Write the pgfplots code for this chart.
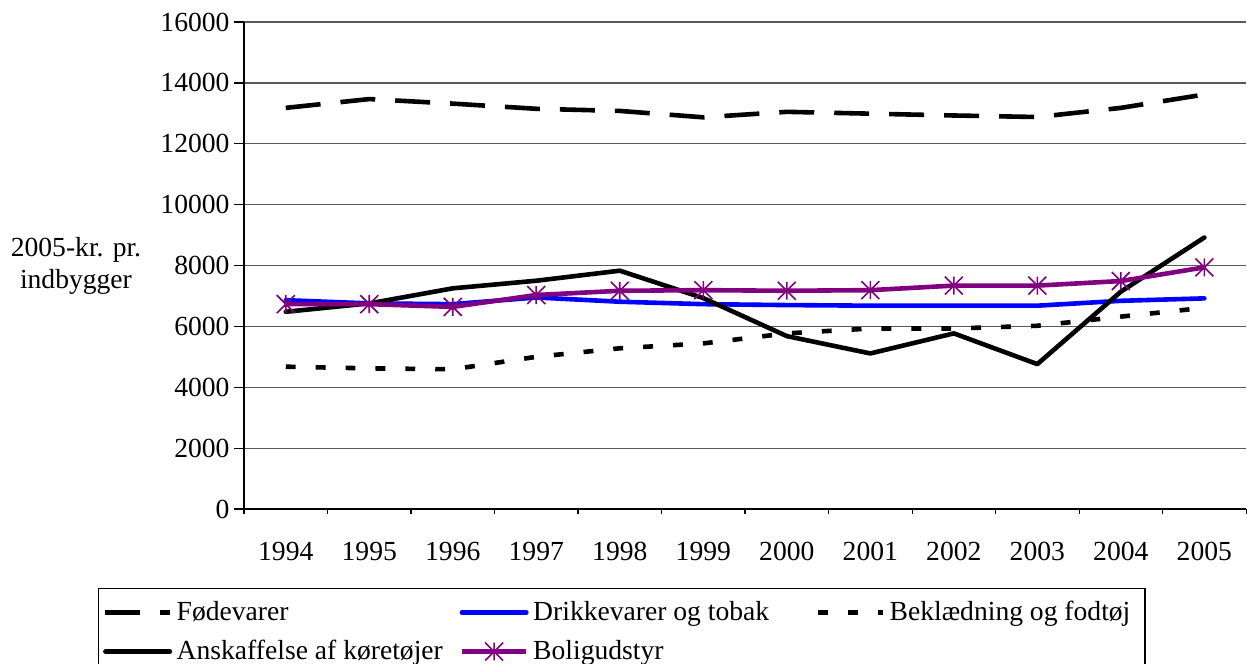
\documentclass[border=0pt]{standalone}
\usepackage{pgfplots}
\pgfplotsset{compat=1.18}
\usepackage{fontspec}
\setmainfont{Liberation Serif}
\definecolor{bolig}{RGB}{128,0,128}
\pgfdeclareplotmark{xstar}{%
  \pgfpathmoveto{\pgfqpoint{0pt}{\pgfplotmarksize}}%
  \pgfpathlineto{\pgfqpoint{0pt}{-\pgfplotmarksize}}%
  \pgfpathmoveto{\pgfqpoint{-\pgfplotmarksize}{-\pgfplotmarksize}}%
  \pgfpathlineto{\pgfqpoint{\pgfplotmarksize}{\pgfplotmarksize}}%
  \pgfpathmoveto{\pgfqpoint{-\pgfplotmarksize}{\pgfplotmarksize}}%
  \pgfpathlineto{\pgfqpoint{\pgfplotmarksize}{-\pgfplotmarksize}}%
  \pgfusepathqstroke}
\begin{document}
\begin{tikzpicture}
\path[use as bounding box] (0,0) rectangle (542.2pt,288.3pt);
\begin{axis}[
  at={(106.1pt,67pt)}, anchor=south west,
  scale only axis, width=435.7pt, height=211.7pt,
  xmin=-0.5, xmax=11.5, ymin=0, ymax=16000,
  axis x line*=bottom, axis y line*=left,
  axis line style={black, line width=0.5pt},
  xtick={0,...,11},
  xticklabels={1994,1995,1996,1997,1998,1999,2000,2001,2002,2003,2004,2005},
  major x tick style={draw=none},
  minor xtick={-0.5,0.5,...,11.5},
  minor x tick style={black, line width=0.5pt},
  minor tick length=2.2pt,
  ytick={0,2000,...,16000},
  scaled y ticks=false,
  major y tick style={black, line width=0.5pt},
  major tick length=4.3pt,
  tick align=outside,
  ymajorgrids,
  major grid style={black!65, line width=0.5pt},
  /pgf/number format/1000 sep={},
  /pgf/number format/assume math mode=true,
  yticklabel={\pgfmathprintnumber[fixed,precision=0,1000 sep={}]{\tick}},
  tick label style={font=\fontsize{12}{14}\selectfont},
  yticklabel style={xshift=1.5pt},
  xticklabel style={yshift=-6.5pt},
  ylabel={2005-kr. pr.\\indbygger},
  ylabel style={rotate=-90, at={(axis description cs:-0.1677,0.5)}, anchor=center,
    align=center, font=\fontsize{12}{14}\selectfont},
  legend columns=3,
  legend cell align=left,
  legend style={at={(axis description cs:-0.1457,-0.1622)}, anchor=north west,
    draw=black, line width=0.45pt, font=\fontsize{12}{14}\selectfont,
    row sep=3pt, inner xsep=2pt, inner ysep=3.5pt},
  legend image code/.code={\draw[mark repeat=2,mark phase=2,#1] plot coordinates {(0pt,0pt)(14pt,0pt)(28pt,0pt)};},
]
\addplot[black, line width=2pt, dash pattern=on 15.2pt off 8.7pt, no markers]
  coordinates {(0,13180)(1,13470)(2,13320)(3,13150)(4,13080)(5,12870)(6,13050)(7,12990)(8,12930)(9,12880)(10,13180)(11,13620)};
\addlegendentry{\makebox[121pt][l]{Fødevarer}}
\addplot[blue, line width=2pt, line cap=round, line join=round, no markers]
  coordinates {(0,6860)(1,6755)(2,6730)(3,6950)(4,6810)(5,6730)(6,6700)(7,6680)(8,6680)(9,6680)(10,6840)(11,6920)};
\addlegendentry{\makebox[121pt][l]{Drikkevarer og tobak}}
\addplot[black, line width=2pt, dash pattern=on 4.3pt off 8.7pt, no markers]
  coordinates {(0,4675)(1,4620)(2,4590)(3,5000)(4,5280)(5,5440)(6,5770)(7,5930)(8,5930)(9,6020)(10,6320)(11,6610)};
\addlegendentry{\makebox[107pt][l]{Beklædning og fodtøj}}
\addplot[black, line width=2pt, line cap=round, line join=round, no markers]
  coordinates {(0,6480)(1,6755)(2,7250)(3,7500)(4,7830)(5,6930)(6,5680)(7,5110)(8,5770)(9,4760)(10,7140)(11,8920)};
\addlegendentry{\makebox[121pt][l]{Anskaffelse af køretøjer}}
\addplot[bolig, line width=2pt, line join=round, mark=xstar, mark size=3.9pt,
  mark options={solid, line width=0.7pt, bolig}]
  coordinates {(0,6730)(1,6730)(2,6640)(3,7030)(4,7170)(5,7190)(6,7170)(7,7190)(8,7340)(9,7340)(10,7490)(11,7940)};
\addlegendentry{Boligudstyr}
\end{axis}
\end{tikzpicture}
\end{document}
